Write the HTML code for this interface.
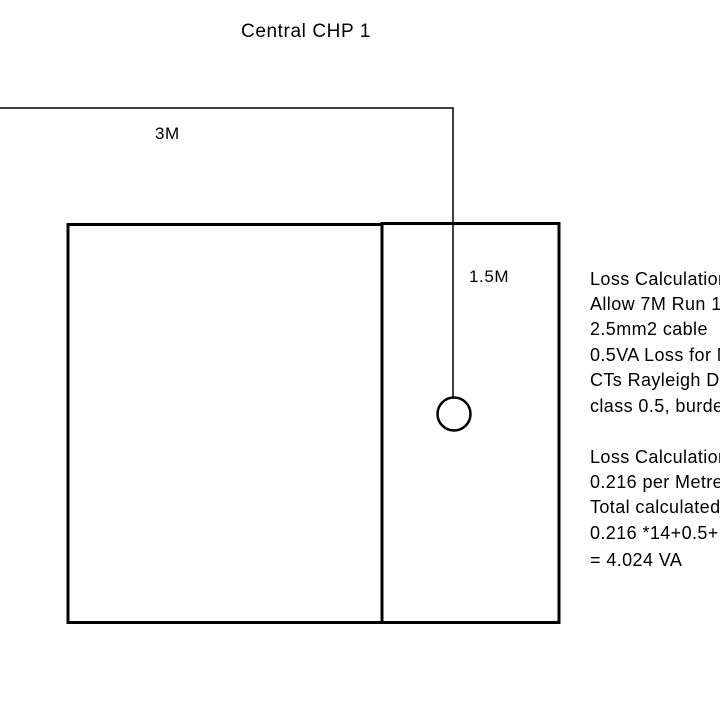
<!DOCTYPE html>
<html><head><meta charset="utf-8"><style>
html,body{margin:0;padding:0;background:#fff;width:720px;height:720px;overflow:hidden}
svg text{font-family:"Liberation Sans",sans-serif;fill:#000}
</style></head><body>
<svg width="720" height="720" viewBox="0 0 720 720" xmlns="http://www.w3.org/2000/svg">
<rect width="720" height="720" fill="#fff"/>
<text x="306" y="37" font-size="19" text-anchor="middle" letter-spacing="0.6">Central CHP 1</text>
<text x="155" y="139" font-size="17" letter-spacing="0.5">3M</text>
<text x="469" y="282" font-size="17" letter-spacing="0.6">1.5M</text>
<rect x="68" y="224.5" width="314" height="398" fill="none" stroke="#000" stroke-width="3"/>
<rect x="382" y="223.5" width="177" height="399" fill="none" stroke="#000" stroke-width="3"/>
<polyline points="0,108 453,108 453,398" fill="none" stroke="#000" stroke-width="1.5"/>
<circle cx="454" cy="414" r="16.5" fill="none" stroke="#000" stroke-width="2.5"/>
<g font-size="18" letter-spacing="0.4">
<text x="590" y="285">Loss Calculation</text>
<text x="590" y="310">Allow 7M Run 1</text>
<text x="590" y="335">2.5mm2 cable</text>
<text x="590" y="361">0.5VA Loss for M</text>
<text x="590" y="386">CTs Rayleigh DE</text>
<text x="590" y="412">class 0.5, burden</text>
<text x="590" y="463">Loss Calculation</text>
<text x="590" y="488">0.216 per Metre</text>
<text x="590" y="513">Total calculated</text>
<text x="590" y="539">0.216 *14+0.5+</text>
<text x="590" y="566">= 4.024 VA</text>
</g>
</svg>
</body></html>
